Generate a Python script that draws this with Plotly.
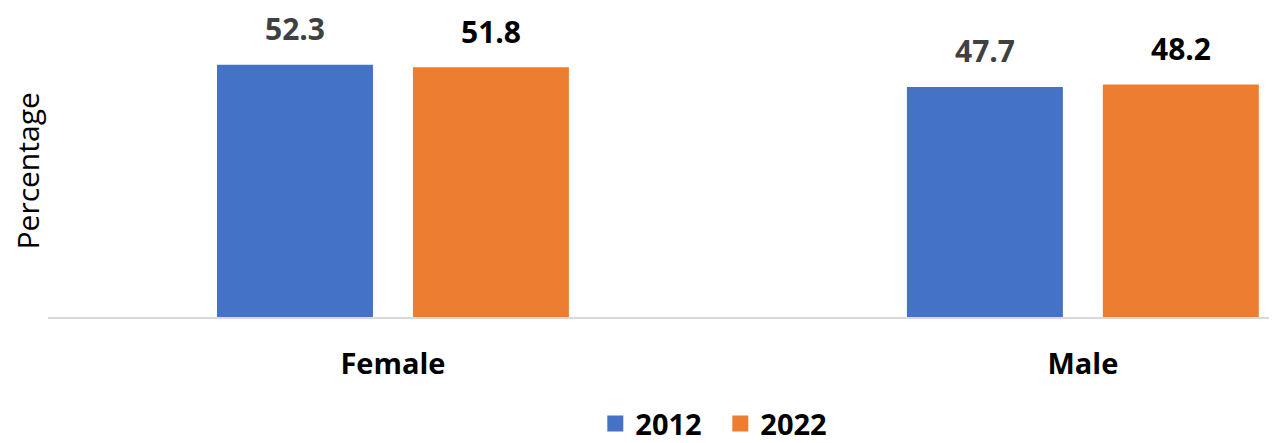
import plotly.graph_objects as go

CATEGORIES = ["Female", "Male"]
YEARS = ["2012", "2022"]
VALUES_2012 = [52.3, 47.7]
VALUES_2022 = [51.8, 48.2]

COLORS = {"2012": "#4472C4", "2022": "#ED7D31"}
LABEL_COLORS = {"2012": "#404040", "2022": "#000000"}
FONT = "Open Sans, Noto Sans, Arial, sans-serif"

fig = go.Figure()
series = {"2012": VALUES_2012, "2022": VALUES_2022}
for year in YEARS:
    fig.add_trace(go.Bar(x=CATEGORIES, y=series[year], name=year, showlegend=False,
                         marker=dict(color=COLORS[year], line=dict(width=0))))
# legend entries with larger square swatches
for year in YEARS:
    fig.add_trace(go.Scatter(x=[None], y=[None], mode="markers", name=year,
                             marker=dict(symbol="square", size=16, color=COLORS[year])))

# data labels placed above each bar (bar slot is ~196 px wide)
for i, year in enumerate(YEARS):
    shift = -98 if i == 0 else 98
    for cat, val in zip(CATEGORIES, series[year]):
        fig.add_annotation(x=cat, y=val, text=f"<b>{val}</b>", showarrow=False,
                           xshift=shift, yshift=36, yanchor="middle",
                           font=dict(family=FONT, size=30, color=LABEL_COLORS[year]))

# y-axis title placed by hand, close to the plot edge
fig.add_annotation(text="Percentage", xref="paper", yref="paper", x=0, y=0.5,
                   xanchor="center", yanchor="middle", xshift=-21, yshift=2,
                   textangle=-90, showarrow=False,
                   font=dict(family=FONT, size=30, color="#000000"))

# figure is a bit taller than the window so the legend never squeezes the plot
fig.update_layout(
    width=1277, height=470,
    margin=dict(l=40, r=0, t=22, b=161),
    paper_bgcolor="white", plot_bgcolor="white",
    barmode="group", bargap=0.432, bargroupgap=0.204,
    font=dict(family=FONT, size=22, color="#000000"),
    legend=dict(orientation="h", x=0.5435, xanchor="center", y=-0.372, yanchor="middle",
                font=dict(family=FONT, size=29, color="#000000", weight="bold"),
                itemwidth=30, entrywidth=80, traceorder="normal"),
)
fig.update_xaxes(range=[-0.5, 1.293], showline=True, linecolor="#D9D9D9", linewidth=2,
                 ticks="outside", ticklen=20, tickcolor="rgba(0,0,0,0)", automargin=False,
                 tickfont=dict(family=FONT, size=29, color="#000000", weight="bold"),
                 showgrid=False, zeroline=False)
fig.update_yaxes(range=[0, 59.5], showticklabels=False, showgrid=False, zeroline=False,
                 automargin=False)

fig.write_html("out.html")
